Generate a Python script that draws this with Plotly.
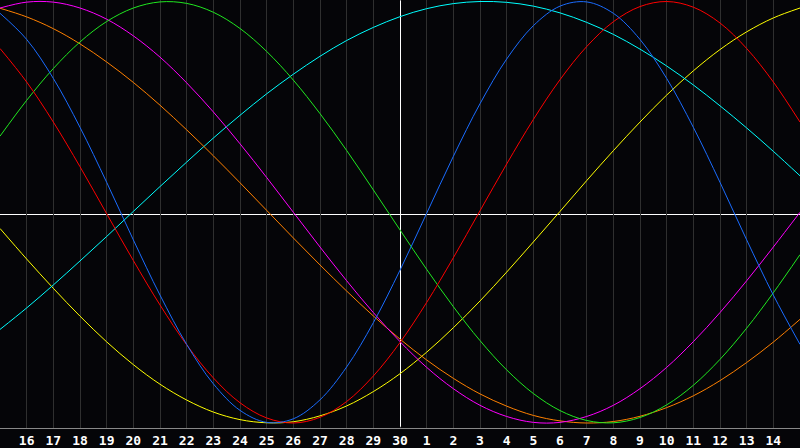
import plotly.graph_objects as go

# day index 0..30 (day 15 of previous month .. day 15 of next month)
days = list(range(31))
day_labels = ["16", "17", "18", "19", "20", "21", "22", "23", "24", "25", "26", "27", "28", "29", "30",
              "1", "2", "3", "4", "5", "6", "7", "8", "9", "10", "11", "12", "13", "14"]
label_pos = list(range(1, 30))
today = 15

# values, -1..1, one per day
red = [0.777, 0.618, 0.428, 0.216, -0.007, -0.229, -0.440, -0.629, -0.786, -0.904, -0.976,
       -1.000, -0.973, -0.898, -0.777, -0.618, -0.428, -0.216, 0.007, 0.229, 0.440,
       0.629, 0.786, 0.904, 0.976, 1.000, 0.973, 0.898, 0.777, 0.618, 0.428]
blue = [0.944, 0.820, 0.635, 0.403, 0.142, -0.131, -0.393, -0.627, -0.814, -0.940, -0.997,
        -0.980, -0.890, -0.734, -0.524, -0.275, -0.005, 0.265, 0.515, 0.727, 0.885,
        0.978, 0.998, 0.944, 0.820, 0.635, 0.403, 0.142, -0.131, -0.393, -0.627]
green = [0.361, 0.531, 0.682, 0.808, 0.905, 0.969, 0.998, 0.991, 0.949, 0.872, 0.763,
         0.627, 0.468, 0.293, 0.106, -0.084, -0.271, -0.448, -0.609, -0.748, -0.860,
         -0.941, -0.988, -0.999, -0.974, -0.914, -0.821, -0.698, -0.550, -0.382, -0.201]
cyan = [-0.556, -0.454, -0.345, -0.231, -0.115, 0.004, 0.122, 0.238, 0.352, 0.460, 0.562,
        0.655, 0.740, 0.815, 0.877, 0.928, 0.966, 0.990, 1.000, 0.996, 0.978,
        0.946, 0.901, 0.844, 0.774, 0.694, 0.604, 0.505, 0.400, 0.289, 0.173]
yellow = [-0.077, -0.222, -0.361, -0.493, -0.615, -0.723, -0.816, -0.891, -0.948, -0.984, -0.999,
          -0.994, -0.966, -0.919, -0.851, -0.766, -0.664, -0.548, -0.421, -0.284, -0.141,
          0.004, 0.150, 0.292, 0.428, 0.556, 0.671, 0.772, 0.856, 0.922, 0.969]
magenta = [0.969, 0.997, 0.997, 0.969, 0.916, 0.837, 0.736, 0.614, 0.476, 0.325, 0.165,
           0.000, -0.165, -0.325, -0.476, -0.614, -0.736, -0.837, -0.916, -0.969, -0.997,
           -0.997, -0.969, -0.916, -0.837, -0.736, -0.614, -0.476, -0.325, -0.165, 0.000]
orange = [0.968, 0.927, 0.871, 0.799, 0.713, 0.616, 0.508, 0.391, 0.268, 0.140, 0.009,
          -0.122, -0.250, -0.374, -0.492, -0.602, -0.701, -0.788, -0.862, -0.920, -0.964,
          -0.990, -1.000, -0.993, -0.968, -0.927, -0.871, -0.799, -0.713, -0.616, -0.508]

series = [
    ("yellow", yellow, "#ffff00"),
    ("cyan", cyan, "#00ffff"),
    ("orange", orange, "#ff8000"),
    ("magenta", magenta, "#ff00ff"),
    ("green", green, "#20e820"),
    ("red", red, "#ff0000"),
    ("blue", blue, "#1a6cff"),
]

yr = [-1.0237, 1.0071]

fig = go.Figure()

# "today" marker as a trace so it sits above the grid but under the curves
# (nudged half a pixel so it stays crisp, kept just inside the frame)
fig.add_trace(go.Scatter(
    x=[today + 0.019, today + 0.019], y=[yr[0] + 0.006, yr[1] - 0.002], mode="lines",
    line=dict(color="white", width=1), hoverinfo="skip", cliponaxis=True
))

for name, vals, col in series:
    fig.add_trace(go.Scatter(
        x=days, y=vals, name=name, mode="lines",
        line=dict(color=col, width=1, shape="spline", smoothing=1.0),
        hoverinfo="skip"
    ))

# zero line
fig.add_shape(type="line", xref="paper", yref="paper", x0=0, x1=1, y0=0.4988, y1=0.4988,
              line=dict(color="white", width=1), layer="below")

fig.update_layout(
    width=800, height=448,
    margin=dict(l=0, r=0, t=0, b=20),
    paper_bgcolor="#050508",
    plot_bgcolor="#050508",
    showlegend=False,
    xaxis=dict(
        range=[0, 30],
        tickmode="array", tickvals=label_pos, ticktext=day_labels,
        showgrid=True, gridcolor="#2f2f2f", gridwidth=1,
        zeroline=False, showline=True, linecolor="#888888", linewidth=1, mirror=True,
        ticks="", ticklen=0,
        tickfont=dict(family="DejaVu Sans Mono", size=13, color="white", weight="bold"),
        fixedrange=True
    ),
    yaxis=dict(
        range=yr,
        showgrid=False, zeroline=False, showticklabels=False,
        showline=True, linecolor="#888888", linewidth=1, mirror=True,
        fixedrange=True
    ),
)

# page body has an 8px default margin; drop it so the figure sits at the corner
fig.write_html("out.html", config={"displayModeBar": False},
               post_script="document.body.style.margin='0';document.body.style.background='#050508';")
